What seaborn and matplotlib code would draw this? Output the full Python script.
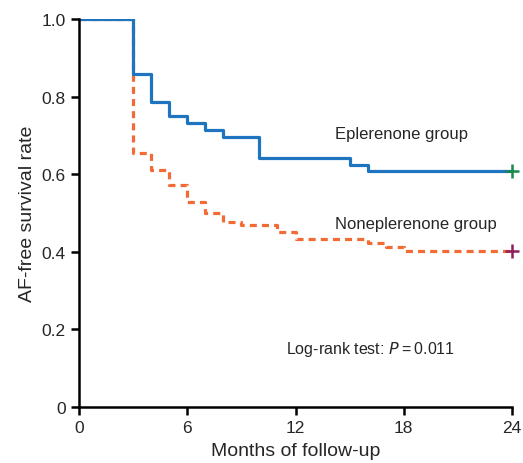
import numpy as np
import pandas as pd
import matplotlib
matplotlib.use("Agg")
import matplotlib.pyplot as plt
import seaborn as sns


# Kaplan-Meier estimates
months_epl = [0, 3, 4, 5, 6, 7, 8, 10, 15, 16, 24]
surv_epl = [1.0, 0.857, 0.786, 0.750, 0.732, 0.714, 0.696, 0.643, 0.625, 0.607, 0.607]

months_non = [0, 3, 4, 5, 6, 7, 8, 9, 11, 12, 16, 17, 18, 24]
surv_non = [1.0, 0.655, 0.610, 0.572, 0.528, 0.500, 0.478, 0.469, 0.450, 0.433, 0.422, 0.412, 0.403, 0.403]

x_ticks = [0, 6, 12, 18, 24]
y_ticks = [0, 0.2, 0.4, 0.6, 0.8, 1.0]
y_ticklabels = ["0", "0.2", "0.4", "0.6", "0.8", "1.0"]

sns.set_style("ticks")
plt.rcParams['font.family'] = ['Liberation Sans', 'DejaVu Sans']

fig = plt.figure(figsize=(5.23, 4.64), dpi=100)
ax = fig.add_axes([79 / 523, 56 / 464, 433 / 523, 388 / 464])

df_epl = pd.DataFrame({"month": months_epl, "surv": surv_epl})
df_non = pd.DataFrame({"month": months_non, "surv": surv_non})

sns.lineplot(data=df_non, x="month", y="surv", ax=ax, color="#F26B35",
             linewidth=2.3, drawstyle="steps-post",
             linestyle=(0, (2.2, 1.6)), estimator=None)
sns.lineplot(data=df_epl, x="month", y="surv", ax=ax, color="#1F74C0",
             linewidth=2.3, drawstyle="steps-post", estimator=None)

# censoring marks at the end of follow-up
ax.plot(months_epl[-1], surv_epl[-1], marker="+", color="#17894A",
        markersize=10, mew=1.8, clip_on=False, zorder=5)
ax.plot(months_non[-1], surv_non[-1], marker="+", color="#8E1F5E",
        markersize=10, mew=1.8, clip_on=False, zorder=5)

ax.text(14.2, 0.705, "Eplerenone group", fontsize=12, va="center")
ax.text(14.2, 0.472, "Noneplerenone group", fontsize=12, va="center")
ax.text(11.5, 0.152, "Log-rank test: $P$\u2009=\u20090.011", fontsize=11.5, va="center")

ax.set_xlim(0, 24)
ax.set_ylim(0, 1.0)
ax.set_xticks(x_ticks)
ax.set_yticks(y_ticks)
ax.set_yticklabels(y_ticklabels)
ax.tick_params(axis="both", labelsize=12.5, width=1.8, length=6, color="black")
ax.set_xlabel("Months of follow-up", fontsize=14, labelpad=5)
ax.set_ylabel("AF-free survival rate", fontsize=14, labelpad=4)

for side in ["top", "right"]:
    ax.spines[side].set_visible(False)
for side in ["left", "bottom"]:
    ax.spines[side].set_linewidth(1.8)
    ax.spines[side].set_color("black")

fig.savefig("out.png", dpi=100)
